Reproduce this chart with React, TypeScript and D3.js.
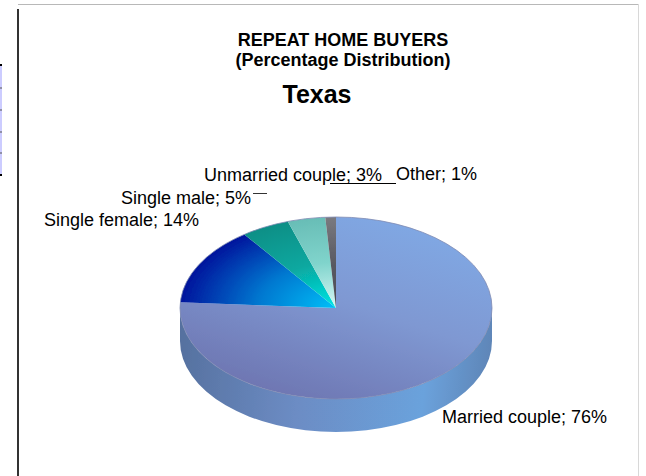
import React from "react";
import * as d3 from "d3";

const categories = ["Married couple", "Single female", "Single male", "Unmarried couple", "Other"];
const labelPercents = [76, 14, 5, 3, 1];
const sliceShares = [76, 14, 5, 3.9, 1.1];
const innerColors = ["#7f96cf", "#00c0f8", "#00e6e6", "#d8f8f6", "#4a4a52"];
const midColors = ["#7f96cf", "#0078d0", "#08a8a0", "#80d4cc", "#5a5a62"];
const outerColors = ["#7f96cf", "#00149c", "#0a8f86", "#68bdb6", "#7a7a80"];
const labelAnchors: [number, number][] = [[442, 423], [44, 226], [121, 204], [204, 181], [396, 180]];
const tableTicks = [65, 88, 110, 132, 153, 175];

const W = 646, H = 476;
const cx = 336, cy = 308, rx = 156, ry = 91, depth = 33;

export default function App() {
  const arcs = d3.pie<number>().sort(null)(sliceShares);
  const arcGen = d3.arc<d3.PieArcDatum<number>>().innerRadius(0).outerRadius(rx);
  const font = "'Liberation Sans', Arial, sans-serif";
  const side = `M${cx - rx},${cy} A${rx},${ry} 0 0 0 ${cx + rx},${cy} V${cy + depth} A${rx},${ry} 0 0 1 ${cx - rx},${cy + depth} Z`;
  return (
    <svg width={W} height={H} style={{ position: "absolute", left: 0, top: 0, background: "#fff" }}>
      <defs>
        <linearGradient id="marriedFace" gradientUnits="userSpaceOnUse" x1={110} y1={-150} x2={-60} y2={150}>
          <stop offset="0" stopColor="#80aae6" />
          <stop offset="0.5" stopColor="#7f98d2" />
          <stop offset="1" stopColor="#6e76b2" />
        </linearGradient>
        <linearGradient id="sideFace" gradientUnits="userSpaceOnUse" x1={cx - rx} y1={cy} x2={cx + rx} y2={cy + depth}>
          <stop offset="0" stopColor="#55709e" />
          <stop offset="0.4" stopColor="#6c8cc4" />
          <stop offset="0.8" stopColor="#6ba2dc" />
          <stop offset="1" stopColor="#5f86b8" />
        </linearGradient>
        {categories.map((c, i) => (
          <radialGradient key={c} id={`slice${i}`} gradientUnits="userSpaceOnUse" cx={0} cy={0} r={rx}>
            <stop offset="0" stopColor={innerColors[i]} />
            <stop offset="0.5" stopColor={midColors[i]} />
            <stop offset="1" stopColor={outerColors[i]} />
          </radialGradient>
        ))}
        <filter id="soft" x="-5%" y="-5%" width="110%" height="110%">
          <feGaussianBlur stdDeviation="0.7" />
        </filter>
      </defs>

      <line x1={18} y1={4.5} x2={638} y2={4.5} stroke="#b8b8b8" />
      <line x1={638.5} y1={4} x2={638.5} y2={H} stroke="#d8d8d8" />
      <line x1={18} y1={9} x2={18} y2={H} stroke="#333" strokeWidth={2} />

      <rect x={0} y={65} width={2} height={110} fill="#ccccff" />
      {tableTicks.map((t, i) => (
        <rect key={t} x={0} y={t - (i === 0 || i === 5 ? 1 : 0.5)} width={2} height={i === 0 || i === 5 ? 2 : 1} fill={i === 0 || i === 5 ? "#000" : "#555"} />
      ))}

      <g fontFamily={font} fill="#000" fontWeight="bold" textAnchor="middle">
        <text x={343} y={46} fontSize={18}>REPEAT HOME BUYERS</text>
        <text x={343} y={66} fontSize={18}>(Percentage Distribution)</text>
        <text x={317} y={103} fontSize={25}>Texas</text>
      </g>

      <g filter="url(#soft)">
        <path d={side} fill="url(#sideFace)" />
        <g transform={`translate(${cx},${cy}) scale(1,${ry / rx})`}>
          {arcs.map((a, i) => (
            <path key={categories[i]} d={arcGen(a) ?? ""} fill={i === 0 ? "url(#marriedFace)" : `url(#slice${i})`} />
          ))}
        </g>
        <ellipse cx={cx} cy={cy} rx={rx} ry={ry} fill="none" stroke="#7f8ab2" strokeWidth={0.8} />
      </g>

      <line x1={330} y1={183.5} x2={396} y2={183.5} stroke="#000" />
      <line x1={253} y1={193.5} x2={267} y2={193.5} stroke="#333" />

      <g fontFamily={font} fill="#000" fontSize={18}>
        {categories.map((c, i) => (
          <text key={c} x={labelAnchors[i][0]} y={labelAnchors[i][1]}>{`${c}; ${labelPercents[i]}%`}</text>
        ))}
      </g>
    </svg>
  );
}
